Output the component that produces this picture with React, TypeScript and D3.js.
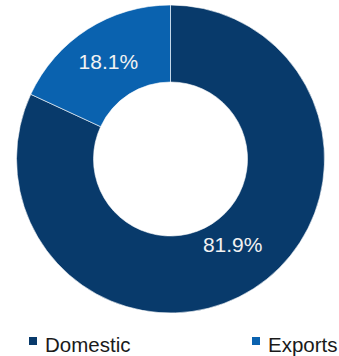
import React from "react";
import * as d3 from "d3";

const categories = ["Domestic", "Exports"];
const values = [81.9, 18.1];
const labels = ["81.9%", "18.1%"];
const colors = ["#083A6B", "#0A62AF"];

const W = 339;
const H = 356;
const cx = 170.5;
const cy = 159;
const outerR = 154;
const innerR = 77;
const labelDy = [-12, 0];
const legendX = [29, 252];
const legendY = 352;
const font = "Arial, Helvetica, sans-serif";

export default function App() {
  const pie = d3.pie<number>().sort(null).value((d) => d)(values);
  const arc = d3.arc<d3.PieArcDatum<number>>().innerRadius(innerR).outerRadius(outerR);
  return (
    <svg width={W} height={H} style={{ position: "absolute", left: 0, top: 0 }}>
      <g transform={`translate(${cx},${cy})`}>
        {pie.map((p, i) => (
          <path key={i} d={arc(p) || ""} fill={colors[i]} stroke="#ffffff" strokeWidth={0.6} />
        ))}
        {pie.map((p, i) => {
          const [x, y] = arc.centroid(p);
          return (
            <text
              key={"l" + i}
              x={x}
              y={y + labelDy[i]}
              textAnchor="middle"
              dominantBaseline="central"
              fill="#F2F2F2"
              style={{ fontFamily: font, fontSize: "21px" }}
            >
              {labels[i]}
            </text>
          );
        })}
      </g>
      {categories.map((c, i) => (
        <g key={"g" + i} transform={`translate(${legendX[i]},${legendY})`}>
          <rect x={0} y={-15} width={8} height={8} fill={colors[i]} />
          <text x={16} y={0} fill="#1A1A1A" style={{ fontFamily: font, fontSize: "20.5px" }}>
            {c}
          </text>
        </g>
      ))}
    </svg>
  );
}
